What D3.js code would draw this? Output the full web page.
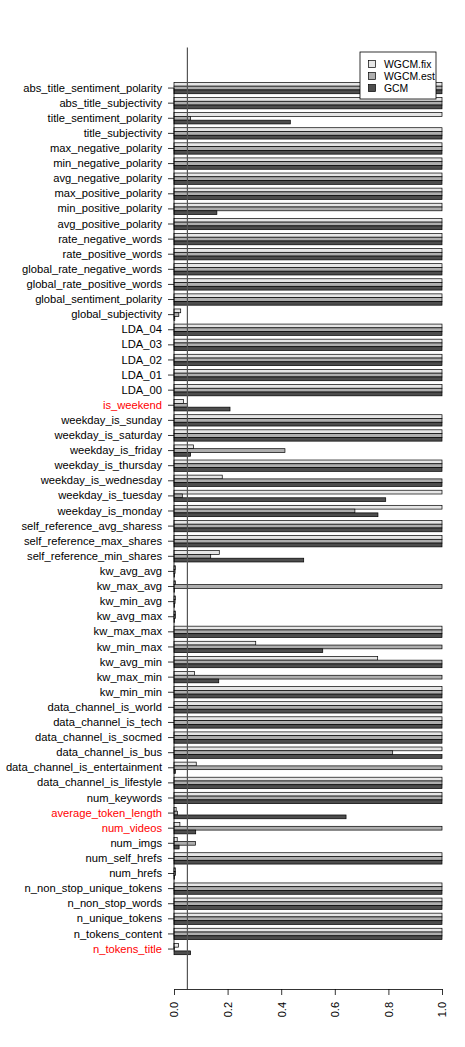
<!DOCTYPE html>
<html>
<head>
<meta charset="utf-8">
<script src="https://cdn.jsdelivr.net/npm/d3@7"></script>
<style>
  body { margin: 0; background: #fff; }
  svg text { font-family: "Liberation Sans", Arial, Helvetica, sans-serif; }
</style>
</head>
<body>
<div id="chart"></div>
<script>
// categories, top to bottom
const categories = [
  "abs_title_sentiment_polarity", "abs_title_subjectivity", "title_sentiment_polarity",
  "title_subjectivity", "max_negative_polarity", "min_negative_polarity",
  "avg_negative_polarity", "max_positive_polarity", "min_positive_polarity",
  "avg_positive_polarity", "rate_negative_words", "rate_positive_words",
  "global_rate_negative_words", "global_rate_positive_words", "global_sentiment_polarity",
  "global_subjectivity", "LDA_04", "LDA_03", "LDA_02", "LDA_01", "LDA_00",
  "is_weekend", "weekday_is_sunday", "weekday_is_saturday", "weekday_is_friday",
  "weekday_is_thursday", "weekday_is_wednesday", "weekday_is_tuesday", "weekday_is_monday",
  "self_reference_avg_sharess", "self_reference_max_shares", "self_reference_min_shares",
  "kw_avg_avg", "kw_max_avg", "kw_min_avg", "kw_avg_max", "kw_max_max", "kw_min_max",
  "kw_avg_min", "kw_max_min", "kw_min_min", "data_channel_is_world", "data_channel_is_tech",
  "data_channel_is_socmed", "data_channel_is_bus", "data_channel_is_entertainment",
  "data_channel_is_lifestyle", "num_keywords", "average_token_length", "num_videos",
  "num_imgs", "num_self_hrefs", "num_hrefs", "n_non_stop_unique_tokens",
  "n_non_stop_words", "n_unique_tokens", "n_tokens_content", "n_tokens_title"
];

const redLabels = ["is_weekend", "average_token_length", "num_videos", "n_tokens_title"];

const wgcmFix = [
  1, 1, 1, 1, 1, 1, 1, 1, 1, 1, 1, 1, 1, 1, 1, 0.025, 1, 1, 1, 1, 1,
  0.035, 1, 1, 0.073, 1, 0.18, 1, 1, 1, 1, 0.169,
  0.006, 0.006, 0.006, 0.006, 1, 0.305, 0.76, 0.076, 1,
  1, 1, 1, 1, 0.083, 1, 1, 0.008, 0.022, 0.012, 1, 0.005,
  1, 1, 1, 1, 0.017
];

const wgcmEst = [
  1, 1, 0.062, 1, 1, 1, 1, 1, 1, 1, 1, 1, 1, 1, 1, 0.018, 1, 1, 1, 1, 1,
  0.051, 1, 1, 0.414, 1, 1, 0.031, 0.675, 1, 1, 0.137,
  0.004, 1, 0.004, 0.005, 1, 1, 1, 1, 1,
  1, 1, 1, 0.816, 1, 1, 1, 0.013, 1, 0.08, 1, 0.006,
  1, 1, 1, 1, 0.002
];

const gcm = [
  1, 1, 0.434, 1, 1, 1, 1, 1, 0.16, 1, 1, 1, 1, 1, 1, 0.003, 1, 1, 1, 1, 1,
  0.209, 1, 1, 0.062, 1, 1, 0.79, 0.761, 1, 1, 0.484,
  0.002, 0.002, 0.002, 0.002, 1, 0.555, 1, 0.167, 1,
  1, 1, 1, 1, 0.005, 1, 1, 0.642, 0.081, 0.019, 1, 0.002,
  1, 1, 1, 1, 0.062
];

const seriesNames = ["WGCM.fix", "WGCM.est", "GCM"];
const seriesColors = ["#E6E6E6", "#AEAEAE", "#4D4D4D"];
const xTicks = [0, 0.2, 0.4, 0.6, 0.8, 1.0];
const cutoff = 0.05;

const width = 465;
const height = 1047;
const plotTop = 47.5;
const plotBottom = 989;

const seriesValues = [wgcmFix, wgcmEst, gcm];
const rows = categories.map((c, i) => ({
  name: c,
  values: seriesNames.map((s, j) => ({ series: s, value: seriesValues[j][i] }))
}));

const svg = d3.select("#chart")
  .append("svg")
  .attr("width", width)
  .attr("height", height);

const x = d3.scaleLinear().domain([0, 1]).range([174, 442]);

const y = d3.scaleBand()
  .domain(categories)
  .range([82.4, 954.7])
  .paddingInner(0.25)
  .paddingOuter(0);

const ySub = d3.scaleBand()
  .domain(seriesNames)
  .range([0, y.bandwidth()])
  .padding(0);

const color = d3.scaleOrdinal().domain(seriesNames).range(seriesColors);

// bars
const groups = svg.selectAll(".group")
  .data(rows)
  .enter()
  .append("g")
  .attr("class", "group")
  .attr("transform", (d) => "translate(0," + y(d.name) + ")");

groups.selectAll("rect")
  .data((d) => d.values)
  .enter()
  .append("rect")
  .attr("x", x(0))
  .attr("y", (d) => ySub(d.series))
  .attr("width", (d) => x(d.value) - x(0))
  .attr("height", ySub.bandwidth())
  .attr("fill", (d) => color(d.series))
  .attr("stroke", "#000")
  .attr("stroke-width", 0.7);

// category axis
const yAxis = svg.append("g")
  .attr("transform", "translate(" + x(0) + ",0)")
  .call(d3.axisLeft(y).tickSize(6).tickPadding(6));
yAxis.select(".domain").remove();
yAxis.selectAll("line").attr("stroke", "#000").attr("stroke-width", 0.8);
yAxis.selectAll("text")
  .style("font-size", "11.2px")
  .attr("fill", (d) => (redLabels.includes(d) ? "#FF0000" : "#000"));
svg.append("line")
  .attr("x1", x(0)).attr("x2", x(0))
  .attr("y1", y(categories[0]) + y.bandwidth() / 2)
  .attr("y2", y(categories[categories.length - 1]) + y.bandwidth() / 2)
  .attr("stroke", "#000")
  .attr("stroke-width", 0.8);

// value axis
const xAxis = svg.append("g")
  .attr("transform", "translate(0," + plotBottom + ")")
  .call(d3.axisBottom(x).tickValues(xTicks).tickFormat(d3.format(".1f"))
    .tickSize(6).tickSizeOuter(0));
xAxis.select(".domain").attr("stroke", "#000").attr("stroke-width", 0.8);
xAxis.selectAll("line").attr("stroke", "#000").attr("stroke-width", 0.8);
xAxis.selectAll("text")
  .style("font-size", "11px")
  .attr("transform", "rotate(-90)")
  .attr("x", -13)
  .attr("y", 0)
  .attr("dy", "0.35em")
  .attr("text-anchor", "end");

// cutoff line
svg.append("line")
  .attr("x1", x(cutoff)).attr("x2", x(cutoff))
  .attr("y1", plotTop).attr("y2", plotBottom)
  .attr("stroke", "#555")
  .attr("stroke-width", 1.2);

// legend
const legend = svg.append("g").attr("transform", "translate(360,52)");
legend.append("rect")
  .attr("width", 76)
  .attr("height", 47)
  .attr("fill", "#fff")
  .attr("stroke", "#000")
  .attr("stroke-width", 0.8);
seriesNames.forEach((s, i) => {
  legend.append("rect")
    .attr("x", 8.5)
    .attr("y", 8.5 + i * 12)
    .attr("width", 7)
    .attr("height", 7)
    .attr("fill", seriesColors[i])
    .attr("stroke", "#000")
    .attr("stroke-width", 0.7);
  legend.append("text")
    .attr("x", 24)
    .attr("y", 12 + i * 12)
    .attr("dy", "0.35em")
    .style("font-size", "10.4px")
    .text(s);
});
</script>
</body>
</html>
